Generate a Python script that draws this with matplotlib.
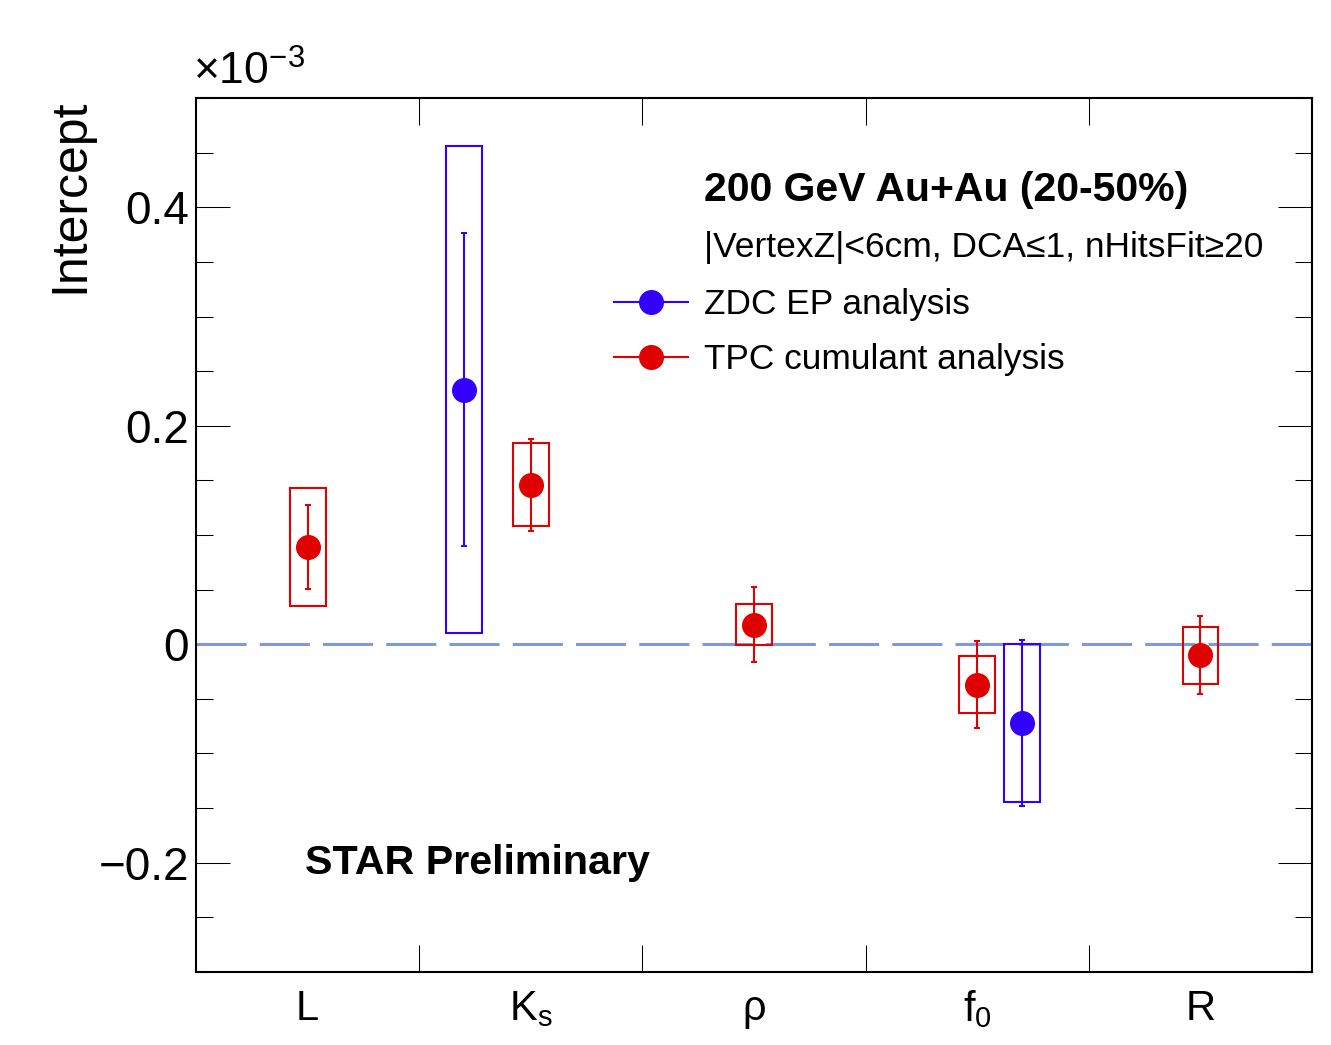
import numpy as np
import matplotlib
matplotlib.use("Agg")
import matplotlib.pyplot as plt
from matplotlib.lines import Line2D
from matplotlib.patches import Rectangle
from matplotlib.ticker import FixedLocator, MultipleLocator, FuncFormatter

plt.rcParams['font.family'] = ['Liberation Sans', 'DejaVu Sans']
plt.rcParams['mathtext.fontset'] = 'custom'
plt.rcParams['mathtext.rm'] = 'Liberation Sans'
plt.rcParams['mathtext.it'] = 'Liberation Sans'

# particle categories
cats = ["L", r"K$_{\mathrm{s}}$", "ρ", r"f$_{0}$", "R"]

# TPC cumulant analysis (red), values in units of 1e-3
tpc_idx = [0, 1, 2, 3, 4]
tpc_val = [0.089, 0.146, 0.018, -0.037, -0.010]
tpc_stat = [0.038, 0.042, 0.034, 0.040, 0.036]
tpc_sys = [0.054, 0.038, 0.019, 0.026, 0.026]

# ZDC EP analysis (blue)
zdc_idx = [1, 3]
zdc_off = [-0.30, 0.20]
zdc_val = [0.233, -0.072]
zdc_stat = [0.143, 0.076]
zdc_sys = [0.223, 0.072]

red = '#e00000'
blue = '#3300ff'

fig = plt.figure(figsize=(13.31, 10.45), dpi=100)
ax = fig.add_axes([0.1473, 0.0699, 0.8384, 0.8363])

bw = 0.08


def draw_set(xs, ys, st, sy, col):
    for x, y, s, b in zip(xs, ys, st, sy):
        ax.add_patch(Rectangle((x - bw, y - b), 2 * bw, 2 * b, fill=False,
                               edgecolor=col, lw=1.5, zorder=3))
    ax.errorbar(xs, ys, yerr=st, fmt='o', color=col, ms=17, elinewidth=1.5,
                capsize=2.5, capthick=1.5, zorder=4)


ax.axhline(0, color='#7f98e0', lw=2.2, dashes=(16.4, 4.3), zorder=2)

xt = [i + 0.5 for i in tpc_idx]
draw_set(xt, tpc_val, tpc_stat, tpc_sys, red)
xz = [i + 0.5 + o for i, o in zip(zdc_idx, zdc_off)]
draw_set(xz, zdc_val, zdc_stat, zdc_sys, blue)

ax.set_xlim(0, 5)
ax.set_ylim(-0.3, 0.5)

ax.xaxis.set_major_locator(FixedLocator([1, 2, 3, 4]))
ax.xaxis.set_major_formatter(FuncFormatter(lambda v, p: ""))
ax.xaxis.set_minor_locator(FixedLocator([i + 0.5 for i in range(5)]))
ax.xaxis.set_minor_formatter(FuncFormatter(lambda v, p: cats[int(v)]))
ax.tick_params(axis='x', which='major', direction='in', length=19.5,
               width=0.75, top=True, bottom=True)
ax.tick_params(axis='x', which='minor', length=0, labelsize=30, pad=12)

ax.yaxis.set_major_locator(MultipleLocator(0.2))
ax.yaxis.set_minor_locator(MultipleLocator(0.05))
ax.yaxis.set_major_formatter(FuncFormatter(
    lambda v, p: "0" if abs(v) < 1e-9 else ("%.1f" % v).replace("-", "\u2212")))
ax.tick_params(axis='y', which='major', direction='in', length=24.5,
               width=0.75, left=True, right=True, labelsize=33, pad=5)
ax.tick_params(axis='y', which='minor', direction='in', length=12,
               width=0.75, left=True, right=True)

for sp in ax.spines.values():
    sp.set_linewidth(1.5)

ax.set_ylabel("Intercept", fontsize=36, loc='top', labelpad=4)
ax.text(-0.003, 1.005, r"$\times$10$^{-3}$", transform=ax.transAxes,
        fontsize=32, ha='left', va='bottom')

# legend block
ax.text(0.4552, 0.8945, "200 GeV Au+Au (20-50%)", transform=ax.transAxes,
        fontsize=29.5, fontweight='bold', ha='left', va='center')
ax.text(0.4552, 0.8295, "|VertexZ|<6cm, DCA\u22641, nHitsFit\u226520",
        transform=ax.transAxes, fontsize=25.5, ha='left', va='center')
handles = [Line2D([], [], color=blue, marker='o', ms=17, lw=1.5),
           Line2D([], [], color=red, marker='o', ms=17, lw=1.5)]
ax.legend(handles, ["ZDC EP analysis", "TPC cumulant analysis"],
          loc='center left', bbox_to_anchor=(0.3746, 0.7323), frameon=False,
          fontsize=25.4, handlelength=2.1, handletextpad=0.46, labelspacing=0.62,
          borderpad=0, borderaxespad=0)

ax.text(0.0977, 0.1245, "STAR Preliminary", transform=ax.transAxes,
        fontsize=29.7, fontweight='bold', ha='left', va='center')

fig.savefig("out.png", dpi=100)
